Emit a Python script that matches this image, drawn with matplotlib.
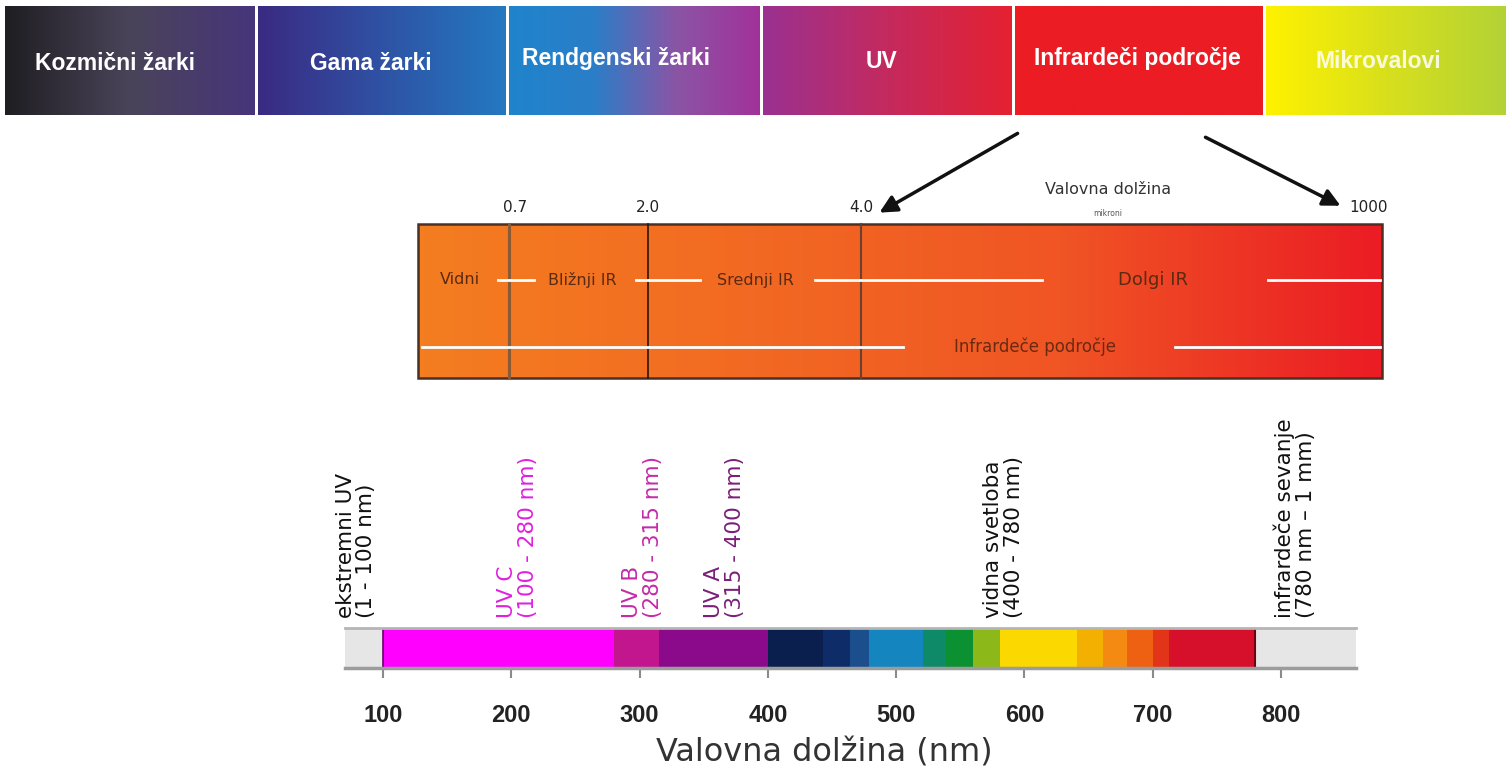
import numpy as np
import matplotlib.pyplot as plt
from matplotlib.colors import LinearSegmentedColormap
from matplotlib.patches import Rectangle

# Top band: parts of the electromagnetic spectrum
band_names = ['Kozmični žarki', 'Gama žarki', 'Rendgenski žarki', 'UV',
              'Infrardeči področje', 'Mikrovalovi']
band_colors = [['#1f1e22', '#4a4459', '#47357b'],
               ['#3a2a82', '#2f52a4', '#2379c1'],
               ['#1f84cc', '#2a7ec8', '#8a55a5', '#a2319a'],
               ['#9a3191', '#c42a5e', '#e52131'],
               ['#ec1c24', '#ec1c24'],
               ['#fff200', '#d8e01c', '#b3d236']]

# Middle band: infrared subdivision (microns)
ir_ticks = ['0.7', '2.0', '4.0', '1000']
ir_regions = ['Vidni', 'Bližnji IR', 'Srednji IR', 'Dolgi IR']
ir_total = 'Infrardeče področje'

# Bottom: optical spectrum (nm)
spec_start = [100, 280, 315, 400, 443, 464, 479, 521, 539, 560, 581, 641, 661, 680, 700, 713]
spec_end = [280, 315, 400, 443, 464, 479, 521, 539, 560, 581, 641, 661, 680, 700, 713, 780]
spec_colors = ['#ff00ff', '#c2168e', '#8b0a8b', '#0b1f4f', '#0d2c68', '#1a4e8c', '#1585c0',
               '#0f8a68', '#0b9032', '#8cb81a', '#fad800', '#f4b000', '#f48a12', '#ee6012',
               '#e23418', '#d6102a']
spec_labels = ['ekstremni UV\n(1 - 100 nm)', 'UV C\n(100 - 280 nm)', 'UV B\n(280 - 315 nm)',
               'UV A\n(315 - 400 nm)', 'vidna svetloba\n(400 - 780 nm)',
               'infrardeče sevanje\n(780 nm – 1 mm)']
label_nm = [79, 205, 302, 366, 584, 811]
label_colors = ['#111111', '#e020e0', '#c42aa8', '#7a1f78', '#111111', '#111111']
nm_ticks = [100, 200, 300, 400, 500, 600, 700, 800]


def gradient(ax, x0, x1, y0, y1, colors):
    cmap = LinearSegmentedColormap.from_list('g', colors)
    ax.imshow(np.linspace(0, 1, 256)[None, :], cmap=cmap, aspect='auto',
              extent=(x0, x1, y1, y0), interpolation='bilinear')


fig = plt.figure(figsize=(15.06, 7.75), dpi=100)
ax0 = fig.add_axes([0, 0, 1, 1])

# --- top band
box_left = [5, 258, 509, 763, 1015, 1266]
box_right = [255, 506, 760, 1012, 1263, 1506]
text_x = [115, 371, 616, 882, 1137, 1378]
text_y = [64, 64, 58, 62, 58, 62]
for i, name in enumerate(band_names):
    gradient(ax0, box_left[i], box_right[i], 6, 115, band_colors[i])
    ax0.text(text_x[i], text_y[i], name, color='white', fontsize=16.5,
             fontweight='bold', family='Liberation Sans', ha='center', va='center',
             alpha=0.85 if i == 5 else 1)

# arrows towards the infrared detail
ax0.annotate('', xy=(877, 214), xytext=(1020, 132),
             arrowprops=dict(arrowstyle='-|>', lw=2.5, color='#111111', mutation_scale=26))
ax0.annotate('', xy=(1343, 207), xytext=(1203, 136),
             arrowprops=dict(arrowstyle='-|>', lw=2.5, color='#111111', mutation_scale=26))

# --- middle band
gradient(ax0, 418, 1382, 224, 378, ['#f47d20', '#f26a22', '#f05524', '#eb1c24'])
ax0.add_patch(Rectangle((418, 224), 964, 154, fill=False, ec='#4a3025', lw=1.8))
div_x = [509, 648, 861]
div_col = ['#8a5a35', '#2a1508', '#6a4030']
div_lw = [2.2, 1.2, 1.5]
for x, c, w in zip(div_x, div_col, div_lw):
    ax0.plot([x, x], [224, 378], color=c, lw=w)
tick_x = [515, 648, 861, 1369]
for x, t in zip(tick_x, ir_ticks):
    ax0.text(x, 208, t, fontsize=11, color='#222222', ha='center', va='center')
ax0.text(1108, 189, 'Valovna dolžina', fontsize=11.5, color='#333333', ha='center', va='center')
ax0.text(1108, 213, 'mikroni', fontsize=5.5, color='#555555', ha='center', va='center')

region_x = [460, 582, 755, 1153]
region_fs = [11.5, 11.5, 11.5, 13]
for x, t, fs in zip(region_x, ir_regions, region_fs):
    ax0.text(x, 280, t, fontsize=fs, color='#5a2a12', ha='center', va='center')
ax0.text(1035, 347, ir_total, fontsize=12, color='#6a2a12', ha='center', va='center')
for x0, x1 in [(498, 534), (636, 700), (815, 1042), (1268, 1380)]:
    ax0.plot([x0, x1], [280, 280], color='white', lw=2)
for x0, x1 in [(422, 903), (1175, 1380)]:
    ax0.plot([x0, x1], [347, 347], color='white', lw=2)

ax0.set_xlim(0, 1506)
ax0.set_ylim(775, 0)
ax0.axis('off')

# --- bottom spectrum in nm
ax2 = fig.add_axes([345 / 1506, 1 - 668 / 775, 1011 / 1506, 40 / 775])
ax2.set_facecolor('#e6e6e6')
for s, e, c in zip(spec_start, spec_end, spec_colors):
    ax2.axvspan(s, e, ymin=0.03, ymax=0.97, color=c, lw=0)
# thin dark edges at both ends of the coloured part
ax2.axvline(spec_start[0], ymin=0.03, ymax=0.97, color='#6a006a', lw=1.2)
ax2.axvline(spec_end[-1], ymin=0.03, ymax=0.97, color='#70000f', lw=1.5)
ax2.set_xlim(70.4, 858.5)
ax2.set_ylim(0, 1)
ax2.set_yticks([])
ax2.set_xticks(nm_ticks)
ax2.set_xticklabels([str(t) for t in nm_ticks], fontsize=17, fontweight='bold',
                    family='Liberation Sans', color='#222222')
ax2.tick_params(axis='x', direction='out', length=7, width=1.5, color='#8a8a8a', pad=19)
ax2.spines['left'].set_visible(False)
ax2.spines['right'].set_visible(False)
ax2.spines['bottom'].set_color('#9c9c9c')
ax2.spines['bottom'].set_linewidth(2.5)
ax2.spines['top'].set_color('#b5b5b5')
ax2.spines['top'].set_linewidth(2)

for x, t, c in zip(label_nm, spec_labels, label_colors):
    ax2.text(x, 1.25, t, rotation=90, color=c, fontsize=15.5, ha='center', va='bottom',
             multialignment='left', linespacing=1.05, transform=ax2.get_xaxis_transform())

ax2.set_xlabel('Valovna dolžina (nm)', fontsize=23, color='#333333')
ax2.xaxis.set_label_coords(0.474, -1.75)

fig.savefig('out.png', dpi=100)
